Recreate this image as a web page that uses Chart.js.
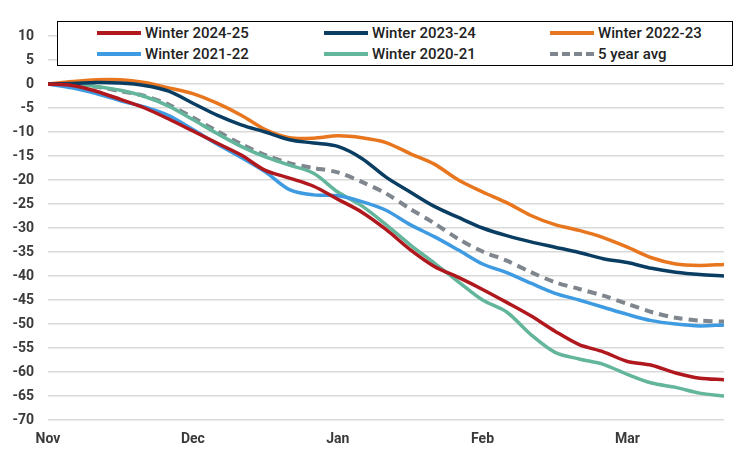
<!DOCTYPE html>
<html>
<head>
<meta charset="utf-8">
<script src="https://cdn.jsdelivr.net/npm/chart.js@4"></script>
<style>
  body { margin: 0; background: #fff; font-family: Roboto, sans-serif; }
  #wrap { position: relative; width: 742px; height: 455px; }
  #legend {
    position: absolute; left: 57px; top: 21px; height: 43px; width: 635px;
    border: 1.5px solid #000; background: #fff;
    display: grid; grid-template-columns: 227px 226px 182px; grid-template-rows: 21px 21px;
    padding-left: 39px; box-sizing: content-box;
  }
  .item { display: flex; align-items: center; font-size: 15px; font-weight: 500; color: #222; }
  .swatch { width: 44px; height: 0; margin-right: 4px; }
</style>
</head>
<body>
<div id="wrap">
  <canvas id="lineChart" width="742" height="455"></canvas>
  <div id="legend"></div>
</div>
<script>
// dias desde el 1 de noviembre
const days = [0, 5, 10, 15, 20, 25, 30, 35, 40, 45, 50, 55, 60, 65, 70, 75, 80, 85, 90, 95, 100, 105, 110, 115, 120, 125, 130, 135, 140];
const monthTicks = [0, 30, 60, 90, 120];
const monthLabels = ['Nov', 'Dec', 'Jan', 'Feb', 'Mar'];

const winter2425 = [0, -0.3, -1.5, -3.2, -5, -7.3, -9.8, -12.3, -14.8, -18, -19.6, -21.3, -24, -26.7, -30.3, -34.5, -38, -40.3, -42.8, -45.5, -48.3, -51.5, -54.3, -55.8, -57.8, -58.6, -60.2, -61.3, -61.6];
const winter2324 = [0, 0.1, 0.3, 0.2, -0.3, -1.5, -4, -6.5, -8.5, -10, -11.6, -12.3, -13, -15.5, -19.4, -22.5, -25.5, -27.8, -30, -31.6, -32.9, -34, -35.1, -36.4, -37.2, -38.4, -39.2, -39.7, -40];
const winter2223 = [0, 0.5, 0.9, 0.9, 0.3, -0.8, -2, -4, -6.5, -9.5, -11.2, -11.3, -10.8, -11.2, -12.2, -14.5, -16.7, -20, -22.5, -24.7, -27.4, -29.3, -30.5, -32, -34, -36.2, -37.5, -37.8, -37.6];
const winter2122 = [0, -0.8, -2, -3.5, -4.8, -6.6, -9.5, -12.5, -15.3, -18.3, -22, -23.1, -23.3, -24.5, -26.3, -29.3, -31.8, -34.6, -37.5, -39.3, -41.5, -43.6, -45, -46.5, -48, -49.3, -50, -50.4, -50.2];
const winter2021 = [0, 0, -0.5, -1.3, -2.6, -4.6, -7.4, -10.3, -13, -15.2, -16.9, -18.6, -22.5, -25.4, -29.3, -33.5, -37.3, -41.2, -45, -47.5, -52.2, -55.9, -57.3, -58.4, -60.5, -62.3, -63.2, -64.4, -65];
const avg5yr = [0, -0.2, -0.6, -1.5, -2.5, -4.3, -7, -9.8, -12.5, -14.8, -16.5, -17.5, -18.4, -20.4, -22.8, -26, -29, -32.3, -34.9, -36.8, -39.2, -41.3, -42.7, -44.1, -45.8, -47.5, -48.7, -49.3, -49.5];

function serie(label, values, color, dash) {
  return {
    label: label,
    data: days.map((d, i) => ({ x: d, y: values[i] })),
    borderColor: color,
    backgroundColor: color,
    borderWidth: dash ? 4 : 3.5,
    borderDash: dash || [],
    pointRadius: 0,
    tension: 0.3,
    fill: false
  };
}

const datasets = [
  serie('Winter 2024-25', winter2425, '#B0181E'),
  serie('Winter 2023-24', winter2324, '#0A3D62'),
  serie('Winter 2022-23', winter2223, '#E8761E'),
  serie('Winter 2021-22', winter2122, '#3E9BE1'),
  serie('Winter 2020-21', winter2021, '#63B59C'),
  serie('5 year avg', avg5yr, '#7F868D', [9, 6])
];

const ctx = document.getElementById('lineChart').getContext('2d');
const lineChart = new Chart(ctx, {
  type: 'line',
  data: { datasets: datasets },
  options: {
    responsive: false,
    animation: false,
    layout: { padding: { top: 36, left: 10, right: 18, bottom: 7 } },
    plugins: { legend: { display: false }, tooltip: { enabled: false } },
    scales: {
      x: {
        type: 'linear',
        min: 0,
        max: 140,
        afterBuildTicks: (axis) => { axis.ticks = monthTicks.map(v => ({ value: v })); },
        afterFit: (axis) => { axis.height = 28; },
        grid: { display: false, drawTicks: false },
        border: { display: false },
        ticks: {
          padding: 11,
          autoSkip: false,
          maxRotation: 0,
          color: '#3a3a3a',
          font: { family: 'Roboto', size: 14, weight: 'bold' },
          callback: (v) => monthLabels[monthTicks.indexOf(v)]
        }
      },
      y: {
        min: -70,
        max: 10,
        afterFit: (axis) => { axis.width = 38; },
        ticks: {
          stepSize: 5,
          padding: 14,
          color: '#3a3a3a',
          font: { family: 'Roboto', size: 14, weight: 'bold' }
        },
        grid: { color: '#d9d9d9', lineWidth: 1.5, drawTicks: false },
        border: { display: false }
      }
    }
  }
});

// leyenda en html con el recuadro
const legend = document.getElementById('legend');
datasets.forEach(ds => {
  const item = document.createElement('div');
  item.className = 'item';
  const sw = document.createElement('span');
  sw.className = 'swatch';
  sw.style.borderTop = ds.borderDash.length ? '4px dashed ' + ds.borderColor : '4px solid ' + ds.borderColor;
  item.appendChild(sw);
  item.appendChild(document.createTextNode(ds.label));
  legend.appendChild(item);
});
</script>
</body>
</html>
